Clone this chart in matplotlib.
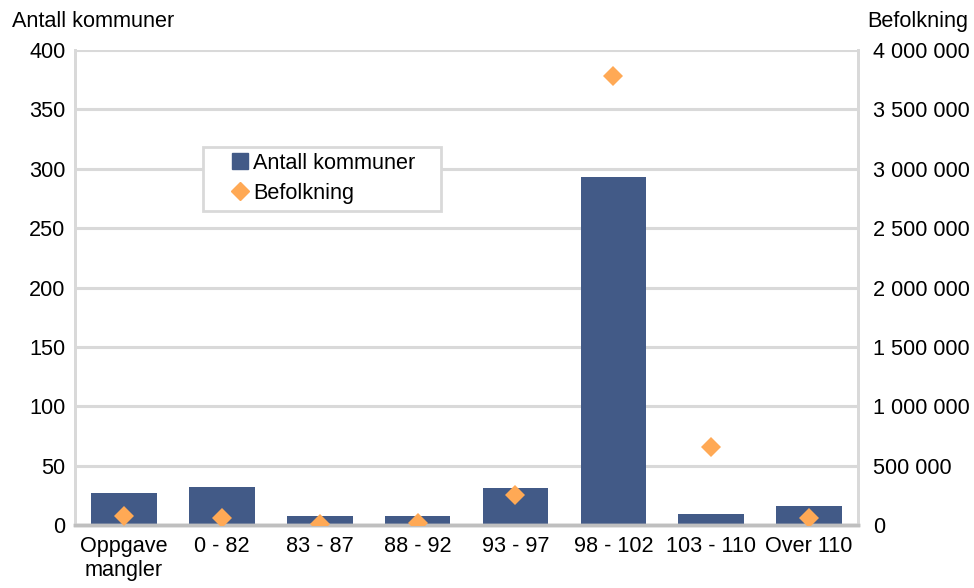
import numpy as np
import matplotlib.pyplot as plt
from matplotlib.ticker import FuncFormatter
from matplotlib.lines import Line2D
from matplotlib.patches import Rectangle

plt.rcParams['font.family'] = ['Liberation Sans', 'DejaVu Sans']

categories = ['Oppgave\nmangler', '0 - 82', '83 - 87', '88 - 92', '93 - 97',
              '98 - 102', '103 - 110', 'Over 110']
antall_kommuner = [27, 32, 8, 8, 31, 293, 9, 16]
befolkning = [80000, 60000, 10000, 17000, 255000, 3780000, 655000, 60000]

bar_color = '#425a87'
dot_color = '#ffa955'
grid_color = '#d9d9d9'
fs = 15.6

fig = plt.figure(figsize=(9.74, 5.88), dpi=100)
ax = fig.add_axes([0.077, 0.107, 0.804, 0.808])
ax2 = ax.twinx()

x = np.arange(len(categories))
ax.bar(x, antall_kommuner, width=0.67, color=bar_color, zorder=2)
ax2.plot(x, befolkning, linestyle='none', marker='D', markersize=10.5,
         color=dot_color, markeredgewidth=0, zorder=3)

ax.set_xlim(-0.5, len(categories) - 0.5)
ax.set_ylim(0, 400)
ax.set_yticks(np.arange(0, 401, 50))
ax2.set_ylim(0, 4000000)
ax2.set_yticks(np.arange(0, 4000001, 500000))
ax2.yaxis.set_major_formatter(FuncFormatter(lambda v, p: f'{int(v):,}'.replace(',', ' ')))

ax.set_xticks(x)
ax.set_xticklabels(categories, fontsize=fs)
ax.yaxis.grid(True, color=grid_color, linewidth=2.2, zorder=0)
ax.set_axisbelow(True)

for a in (ax, ax2):
    a.tick_params(axis='both', length=0, labelsize=fs, pad=7)
    a.spines['top'].set_visible(False)
    a.spines['left'].set_color(grid_color)
    a.spines['left'].set_linewidth(2)
    a.spines['right'].set_color(grid_color)
    a.spines['right'].set_linewidth(2)
    a.spines['bottom'].set_color('#bfbfbf')
    a.spines['bottom'].set_linewidth(2.5)
ax.tick_params(axis='x', pad=8)
ax2.tick_params(axis='y', pad=11)

fig.text(0.012, 0.945, 'Antall kommuner', fontsize=fs, ha='left', va='bottom')
fig.text(0.994, 0.945, 'Befolkning', fontsize=fs, ha='right', va='bottom')

# legend box with wide padding, drawn over the gridlines
ax2.add_patch(Rectangle((0.163, 0.661), 0.304, 0.135, transform=ax2.transAxes,
                        facecolor='white', edgecolor=grid_color, linewidth=2,
                        zorder=4, clip_on=False))
handles = [Line2D([0], [0], marker='s', linestyle='none', color=bar_color, markersize=11.5),
           Line2D([0], [0], marker='D', linestyle='none', color=dot_color, markersize=9.5)]
leg = ax2.legend(handles, ['Antall kommuner', 'Befolkning'], loc='center left',
                 bbox_to_anchor=(0.2, 0.73), borderaxespad=0, borderpad=0,
                 fontsize=fs, frameon=False, handlelength=0.8, handletextpad=0.2,
                 labelspacing=0.4)
leg.set_zorder(5)

fig.savefig('out.png', dpi=100)
